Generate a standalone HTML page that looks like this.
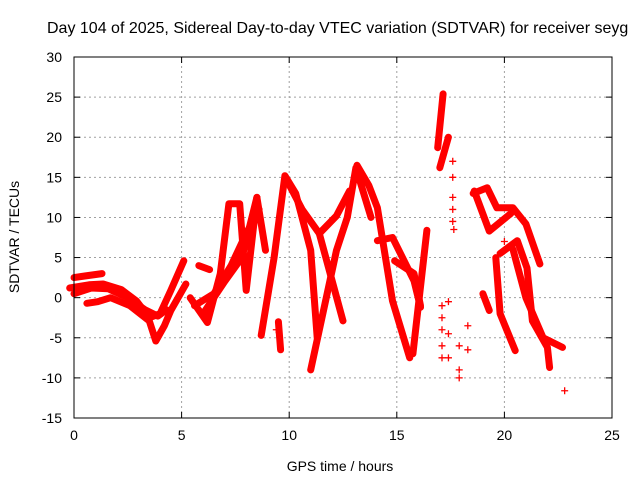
<!DOCTYPE html>
<html><head><meta charset="utf-8"><style>
html,body{margin:0;padding:0;background:#fff;width:640px;height:480px;overflow:hidden}
svg{display:block;font-family:"Liberation Sans",sans-serif}
</style></head><body>
<svg id="chart" width="640" height="480" viewBox="0 0 640 480">
<text x="47" y="33" font-size="16" fill="#000">Day 104 of 2025, Sidereal Day-to-day VTEC variation (SDTVAR) for receiver seyg</text>
<text transform="translate(19,237) rotate(-90)" text-anchor="middle" font-size="14">SDTVAR / TECUs</text>
<text x="340" y="471" text-anchor="middle" font-size="14">GPS time / hours</text>
<g id="grid"></g><g id="marks"></g><g id="axes"></g>
</svg>
<script>
const xTicks=[0,5,10,15,20,25];
const yTicks=[-15,-10,-5,0,5,10,15,20,25,30];
const trackTimes=[
[0,0.5,1.3],
[-0.2,0.7,1.35,2.2,2.9,3.5,4,4.5,5.1],
[0.6,1.1,1.7,2.6,3.5,3.8,4.2,4.5,5.2],
[0,0.8,1.6,2.5,3.3,3.9,4.3],
[5.4,6.2,6.8,7.2,7.7,8,8.5],
[5.6,6.5,7.3,8,8.6],
[6,7,7.8,8.5],
[8.5,8.9],
[8.7,9.3,9.8,10.3,11,11.3],
[9.9,10.6,11.4,12.5],
[11,12.2,12.7,13.1,13.8],
[11.4,12.2,12.8],
[13.15,13.7,14.1,14.8,15.6],
[14.1,14.8,15.8,16.1],
[14.9,15.8,16.1],
[15.75,16.4],
[16.9,17.15],
[17,17.4],
[9.5,9.6],
[18.55,19.2,19.65,20.4,21,21.65],
[18.6,19.3,20.3],
[19.6,19.8,20.5],
[19.8,20.6,21.05,21.3,22,22.1],
[20.4,21,21.8,22.7],
[19,19.3],
[5.8,6.3]
];
const trackValues=[
[2.5,2.7,3],
[1.2,1.6,1.7,1,-0.4,-2.5,-2,0.9,4.6],
[-0.7,-0.5,0,-1,-2.9,-5.4,-3.5,-1.6,1.7],
[0.5,1.2,1.1,0,-1.5,-2.3,-1.5],
[0,-3.1,3,11.7,11.7,0.9,12.5],
[-1,0.5,4,8,11],
[-2,2,5,12.5],
[12.5,5.9],
[-4.7,5,15.2,13,5.9,-5],
[14.6,11,8,-2.9],
[-9,5.9,10,16.2,10],
[8,10.2,13.3],
[16.5,14,11.2,-0.4,-7.5],
[7.1,7.5,2.1,-1.2],
[4.6,3,-1],
[-7,8.4],
[18.7,25.4],
[16.2,20],
[-3,-6.5],
[13,13.7,11.2,11.2,9.2,4.2],
[13.3,8.3,10.5],
[5,-2,-6.6],
[5.5,7.1,3.7,-2.9,-6.2,-8.7],
[6,0,-5,-6.2],
[0.5,-1.6],
[4,3.5]
];
const sparseTimes=[17.6,17.6,17.6,17.6,17.6,17.65,17.1,17.1,17.1,17.1,17.1,17.4,17.4,17.4,17.9,17.9,17.9,18.3,18.3,22.8,9.4,20];
const sparseValues=[17,15,12.5,11,9.5,8.5,-1,-2.5,-4,-6,-7.5,-0.5,-4.5,-7.5,-6,-9,-10,-3.5,-6.5,-11.6,-4,7];
const X0=74,X1=612,Y0=418,Y1=57;
const xs=t=>X0+(t-0)/25*(X1-X0);
const ys=v=>Y0-(v+15)/45*(Y0-Y1);
const NS="http://www.w3.org/2000/svg";
const grid=document.getElementById('grid'),marks=document.getElementById('marks'),axes=document.getElementById('axes');
function mk(tag,attrs,parent){const e=document.createElementNS(NS,tag);for(const k in attrs)e.setAttribute(k,attrs[k]);parent.appendChild(e);return e;}
xTicks.forEach(t=>{
 if(t>0&&t<25){const g=mk('line',{x1:xs(t),x2:xs(t),y1:Y0,y2:Y1,stroke:'#a0a0a0','stroke-dasharray':'2,3'},grid);
 
 }
 const tk=mk('text',{x:xs(t),y:Y0+22,'text-anchor':'middle','font-size':14},axes);tk.textContent=t;
 
 
 mk('line',{x1:xs(t),x2:xs(t),y1:Y0,y2:Y0-6,stroke:'#000'},axes);
 mk('line',{x1:xs(t),x2:xs(t),y1:Y1,y2:Y1+6,stroke:'#000'},axes);
});
yTicks.forEach(v=>{
 if(v>-15&&v<30){const g=mk('line',{x1:X0,x2:X1,y1:ys(v),y2:ys(v),stroke:'#a0a0a0','stroke-dasharray':'2,3'},grid);
 
 }
 const tk=mk('text',{x:X0-12,y:ys(v)+5,'text-anchor':'end','font-size':14},axes);tk.textContent=v;
 
 
 mk('line',{x1:X0,x2:X0+6,y1:ys(v),y2:ys(v),stroke:'#000'},axes);
 mk('line',{x1:X1,x2:X1-6,y1:ys(v),y2:ys(v),stroke:'#000'},axes);
});
const fr=mk('rect',{x:X0,y:Y1,width:X1-X0,height:Y0-Y1,fill:'none',stroke:'#000'},axes);


trackTimes.forEach((ts,i)=>{
 const pts=ts.map((t,j)=>xs(t).toFixed(1)+','+ys(trackValues[i][j]).toFixed(1)).join(' ');
 const p=mk('polyline',{points:pts,fill:'none',stroke:'#ff0000','stroke-width':7,'stroke-linejoin':'round','stroke-linecap':'round'},marks);
 
 
});
sparseTimes.forEach((t,i)=>{
 const x=xs(t),y=ys(sparseValues[i]);
 const p=mk('path',{d:`M${x-3.5},${y}h7M${x},${y-3.5}v7`,stroke:'#ff0000','stroke-width':1.3},marks);
 
 
});
</script>
</body></html>
